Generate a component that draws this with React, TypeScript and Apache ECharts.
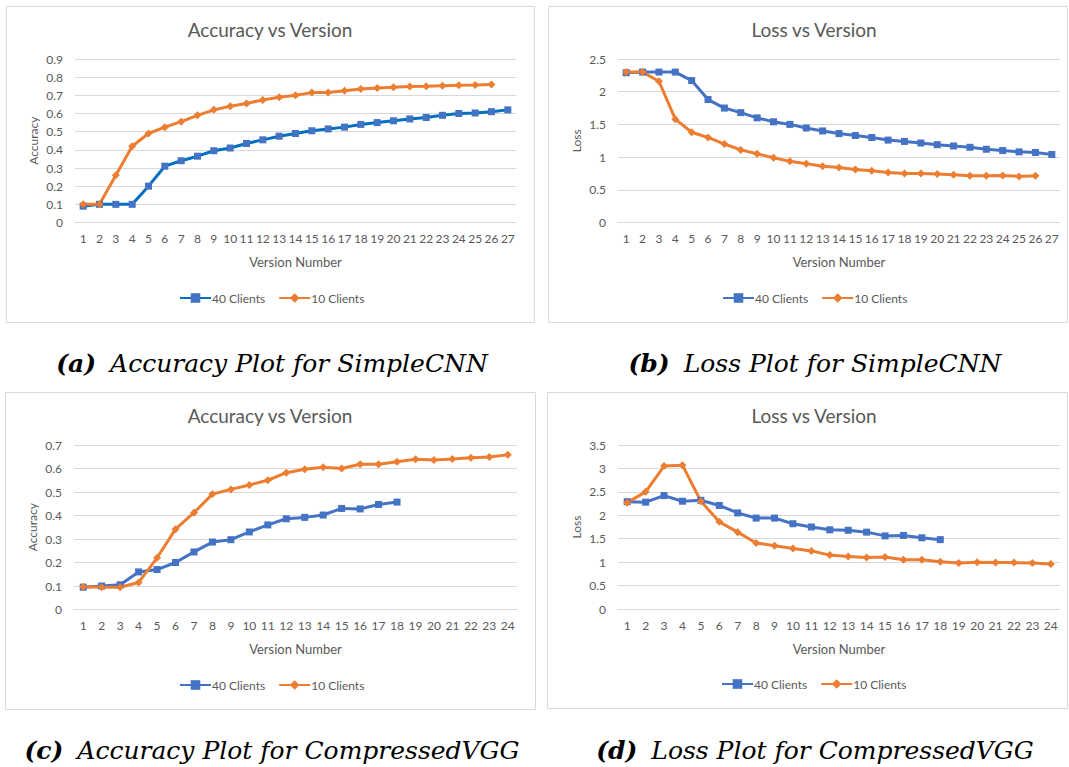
import React, { useEffect, useRef } from "react";
import * as echarts from "echarts";

const versionsCNN = ["1","2","3","4","5","6","7","8","9","10","11","12","13","14","15","16","17","18","19","20","21","22","23","24","25","26","27"];
const versionsVGG = ["1","2","3","4","5","6","7","8","9","10","11","12","13","14","15","16","17","18","19","20","21","22","23","24"];

const accCNN40 = [0.09, 0.1, 0.1, 0.1, 0.2, 0.31, 0.34, 0.365, 0.395, 0.41, 0.435, 0.455, 0.475, 0.49, 0.505, 0.515, 0.525, 0.54, 0.55, 0.56, 0.57, 0.578, 0.59, 0.6, 0.603, 0.61, 0.62];
const accCNN10 = [0.1, 0.1, 0.26, 0.42, 0.49, 0.525, 0.555, 0.59, 0.62, 0.64, 0.655, 0.675, 0.69, 0.7, 0.715, 0.715, 0.725, 0.735, 0.74, 0.745, 0.748, 0.75, 0.753, 0.755, 0.757, 0.76];

const lossCNN40 = [2.29, 2.3, 2.3, 2.3, 2.17, 1.88, 1.75, 1.68, 1.6, 1.54, 1.5, 1.445, 1.4, 1.36, 1.33, 1.3, 1.26, 1.24, 1.215, 1.19, 1.17, 1.15, 1.12, 1.1, 1.08, 1.07, 1.04];
const lossCNN10 = [2.3, 2.3, 2.16, 1.58, 1.38, 1.3, 1.2, 1.11, 1.05, 0.99, 0.935, 0.9, 0.86, 0.84, 0.81, 0.79, 0.765, 0.75, 0.75, 0.74, 0.73, 0.715, 0.715, 0.72, 0.705, 0.715];

const accVGG40 = [0.095, 0.1, 0.105, 0.16, 0.17, 0.2, 0.245, 0.287, 0.297, 0.33, 0.36, 0.386, 0.392, 0.402, 0.43, 0.428, 0.447, 0.457];
const accVGG10 = [0.097, 0.095, 0.095, 0.115, 0.22, 0.342, 0.412, 0.491, 0.511, 0.53, 0.55, 0.582, 0.597, 0.605, 0.6, 0.618, 0.618, 0.629, 0.639, 0.636, 0.64, 0.646, 0.649, 0.658];

const lossVGG40 = [2.29, 2.28, 2.42, 2.3, 2.32, 2.21, 2.05, 1.94, 1.94, 1.82, 1.75, 1.69, 1.68, 1.64, 1.56, 1.57, 1.52, 1.48];
const lossVGG10 = [2.27, 2.5, 3.05, 3.07, 2.3, 1.86, 1.64, 1.41, 1.35, 1.29, 1.24, 1.15, 1.12, 1.1, 1.11, 1.05, 1.05, 1.01, 0.98, 1.0, 0.99, 0.99, 0.98, 0.96];

const seriesNames = ["40 Clients", "10 Clients"];
const panelTitles = ["Accuracy vs Version", "Loss vs Version", "Accuracy vs Version", "Loss vs Version"];
const yNames = ["Accuracy", "Loss", "Accuracy", "Loss"];
const captionTags = ["(a)", "(b)", "(c)", "(d)"];
const captionTexts = ["Accuracy Plot for SimpleCNN", "Loss Plot for SimpleCNN", "Accuracy Plot for CompressedVGG", "Loss Plot for CompressedVGG"];

const FONT = "Lato";
const GREY = "#595959";
const BLUE = "#4472C4";
const BLUE_A = "#0070C0";
const ORANGE = "#ED7D31";

export default function App() {
  const ref = useRef<HTMLDivElement>(null);

  useEffect(() => {
    if (!ref.current) return;
    const chart = echarts.init(ref.current, null, { renderer: "svg" });

    const panels = [
      { grid: { left: 75, top: 59, width: 441, height: 163.5 }, cats: versionsCNN, max: 0.9, interval: 0.1, d40: accCNN40, d10: accCNN10, titleX: 270, titleY: 20, legendX: 179, legendY: 292, box: [6, 6, 528, 316], cap: [272, 363] },
      { grid: { left: 618, top: 59, width: 442, height: 163.5 }, cats: versionsCNN, max: 2.5, interval: 0.5, d40: lossCNN40, d10: lossCNN10, titleX: 814, titleY: 20, legendX: 722, legendY: 292, box: [548, 6, 519, 316], cap: [815, 363] },
      { grid: { left: 74, top: 445, width: 443, height: 164.5 }, cats: versionsVGG, max: 0.7, interval: 0.1, d40: accVGG40, d10: accVGG10, titleX: 270, titleY: 406, legendX: 179, legendY: 679, box: [5, 392, 530, 317], cap: [272, 750] },
      { grid: { left: 618, top: 445, width: 442, height: 164 }, cats: versionsVGG, max: 3.5, interval: 0.5, d40: lossVGG40, d10: lossVGG10, titleX: 814, titleY: 406, legendX: 721, legendY: 678, box: [547, 392, 520, 316], cap: [815, 750] },
    ];

    const option: any = {
      animation: false,
      backgroundColor: "#ffffff",
      title: panels.map((p, i) => ({
        text: panelTitles[i],
        left: p.titleX,
        top: p.titleY,
        textAlign: "center",
        padding: 0,
        textStyle: { fontFamily: FONT, fontSize: 19, fontWeight: "normal", color: GREY },
      })),
      grid: panels.map((p) => ({ ...p.grid, containLabel: false })),
      xAxis: panels.map((p, i) => ({
        type: "category",
        gridIndex: i,
        data: p.cats,
        boundaryGap: true,
        name: "Version Number",
        nameLocation: "middle",
        nameGap: 33,
        nameTextStyle: { fontFamily: FONT, fontSize: 13, color: GREY },
        axisLine: { show: true, lineStyle: { color: "#D9D9D9", width: 1 } },
        axisTick: { show: false },
        axisLabel: { interval: 0, margin: 10, fontFamily: FONT, fontSize: 12, color: GREY },
      })),
      yAxis: panels.map((p, i) => ({
        type: "value",
        gridIndex: i,
        min: 0,
        max: p.max,
        interval: p.interval,
        name: yNames[i],
        nameLocation: "middle",
        nameGap: 36,
        nameRotate: 90,
        nameTextStyle: { fontFamily: FONT, fontSize: 12, color: GREY },
        axisLine: { show: false },
        axisTick: { show: false },
        axisLabel: { margin: 12, fontFamily: FONT, fontSize: 12, color: GREY },
        splitLine: { show: true, lineStyle: { color: "#D9D9D9", width: 1 } },
      })),
      legend: panels.map((p, i) => ({
        left: p.legendX,
        top: p.legendY,
        orient: "horizontal",
        itemWidth: 31,
        itemHeight: 12,
        itemGap: 13,
        padding: 0,
        textStyle: { fontFamily: FONT, fontSize: 12, color: GREY, padding: [0, 0, 0, -4] },
        data: [
          { name: seriesNames[0], lineStyle: { color: i === 0 ? BLUE_A : BLUE }, itemStyle: { color: BLUE } },
          { name: seriesNames[1], lineStyle: { color: ORANGE }, itemStyle: { color: ORANGE } },
        ],
      })),
      series: panels.flatMap((p, i) => [
        {
          name: seriesNames[0],
          type: "line",
          xAxisIndex: i,
          yAxisIndex: i,
          data: p.d40,
          symbol: "rect",
          symbolSize: 7,
          lineStyle: { width: 3, color: i === 0 ? BLUE_A : BLUE },
          itemStyle: { color: BLUE },
        },
        {
          name: seriesNames[1],
          type: "line",
          xAxisIndex: i,
          yAxisIndex: i,
          data: p.d10,
          symbol: "diamond",
          symbolSize: 8,
          lineStyle: { width: 3, color: ORANGE },
          itemStyle: { color: ORANGE },
        },
      ]),
      graphic: [
        ...panels.map((p) => ({
          type: "rect",
          z: -10,
          shape: { x: p.box[0] + 0.5, y: p.box[1] + 0.5, width: p.box[2], height: p.box[3] },
          style: { fill: "none", stroke: "#D9D9D9", lineWidth: 1 },
          silent: true,
        })),
        ...panels.map((p, i) => ({
          type: "text",
          x: p.cap[0],
          y: p.cap[1],
          style: {
            text: `{b|${captionTags[i]}}{i|${captionTexts[i]}}`,
            align: "center",
            verticalAlign: "middle",
            rich: {
              b: { fontFamily: "DejaVu Serif", fontStyle: "italic", fontWeight: "bold", fontSize: 25, fill: "#000", padding: [0, 14, 0, 0] },
              i: { fontFamily: "DejaVu Serif", fontStyle: "italic", fontSize: 25, fill: "#000" },
            },
          },
          silent: true,
        })),
      ],
    };

    chart.setOption(option);
    return () => chart.dispose();
  }, []);

  return (
    <div
      ref={ref}
      style={{ position: "fixed", left: 0, top: 0, width: 1069, height: 767, background: "#fff" }}
    />
  );
}
